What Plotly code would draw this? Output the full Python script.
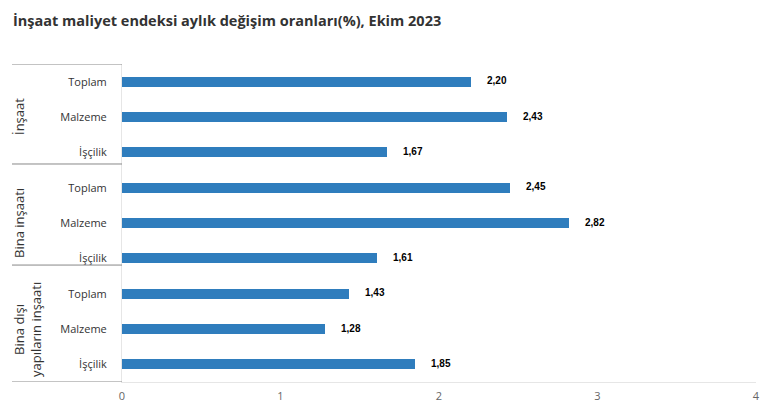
import plotly.graph_objects as go

groups = ["İnşaat", "Bina inşaatı", "Bina dışı<br>yapıların inşaatı"]
categories = ["Toplam", "Malzeme", "İşçilik",
              "Toplam", "Malzeme", "İşçilik",
              "Toplam", "Malzeme", "İşçilik"]
values = [2.20, 2.43, 1.67, 2.45, 2.82, 1.61, 1.43, 1.28, 1.85]
labels = ["2,20", "2,43", "1,67", "2,45", "2,82", "1,61", "1,43", "1,28", "1,85"]
x_ticks = [0, 1, 2, 3, 4]

# page has 8px body margin, so figure is placed at (8, 8)
OFF = 8
W, H = 770 - 2 * OFF, 414 - 2 * OFF
L, T = 122 - OFF, 64 - OFF
R, B = W - (756 - OFF), H - (382 - OFF)
pw = W - L - R


def px_to_paper(px):
    return (px - OFF - L) / pw


rows = list(range(len(values)))

fig = go.Figure()
fig.add_trace(go.Bar(
    x=values, y=rows, orientation="h",
    marker=dict(color="#2f7dbd", line=dict(width=0)),
    width=0.29, hoverinfo="skip",
))

annotations = []
for i, (v, t) in enumerate(zip(values, labels)):
    annotations.append(dict(
        x=v, y=i, xref="x", yref="y", text="<b>" + t + "</b>", showarrow=False,
        xanchor="left", xshift=14, yshift=1,
        font=dict(family="Liberation Sans, Arial", size=10, color="#000000"),
    ))

# group labels (rotated)
group_centers = [1, 4, 7]
for g, c in zip(groups, group_centers):
    annotations.append(dict(
        x=px_to_paper(27 if "<br>" in g else 19), y=c, xref="paper", yref="y",
        text=g, showarrow=False, textangle=-90,
        xanchor="center", yanchor="middle",
        font=dict(family="Open Sans, Noto Sans", size=13, color="#333333"),
    ))

annotations.append(dict(
    x=px_to_paper(11), y=1, xref="paper", yref="paper", yshift=T - 1,
    text="<b>İnşaat maliyet endeksi aylık değişim oranları(%), Ekim 2023</b>",
    showarrow=False, xanchor="left", yanchor="top",
    font=dict(family="Open Sans, Noto Sans", size=14.5, color="#333333"),
))

shapes = []
for yb in [-0.5, 2.33, 5.19, 8.5]:
    shapes.append(dict(
        type="line", xref="paper", yref="y",
        x0=px_to_paper(12), x1=0, y0=yb, y1=yb,
        line=dict(color="#888888", width=1),
    ))

fig.update_layout(
    width=W, height=H,
    margin=dict(l=L, r=R, t=T, b=B, autoexpand=False),
    paper_bgcolor="white", plot_bgcolor="white",
    showlegend=False, bargap=0,
    annotations=annotations, shapes=shapes,
    xaxis=dict(
        range=[0, 4], tickvals=x_ticks, ticktext=[str(v) for v in x_ticks],
        showgrid=False, zeroline=False, automargin=False,
        showline=True, linecolor="#e6e6e6", linewidth=1,
        tickfont=dict(family="Open Sans, Noto Sans", size=11, color="#666666"),
        ticks="", ticklabelstandoff=4,
    ),
    yaxis=dict(
        range=[8.5, -0.5], tickvals=rows, ticktext=categories,
        showgrid=False, zeroline=False, automargin=False,
        showline=True, linecolor="#e6e6e6", linewidth=1,
        tickfont=dict(family="Open Sans, Noto Sans", size=11, color="#333333"),
        ticks="", ticklabelstandoff=12,
    ),
)

fig.write_html("out.html")
